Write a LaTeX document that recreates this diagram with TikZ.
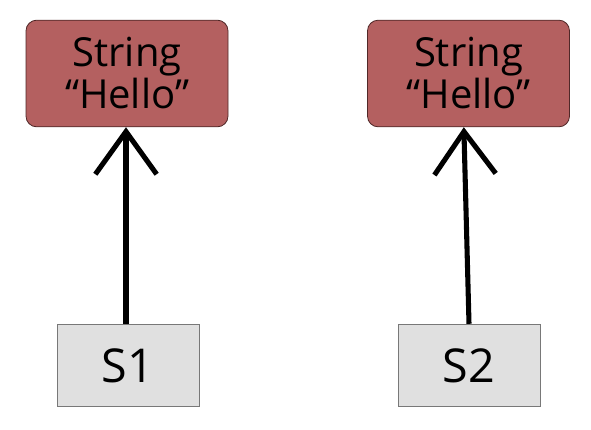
\documentclass[tikz,border=0pt]{standalone}
\usepackage{fontspec}
\setmainfont{Open Sans}
\usepackage{tikz}
\usetikzlibrary{arrows.meta}

\definecolor{strred}{RGB}{180,96,96}
\definecolor{strline}{RGB}{80,40,40}
\definecolor{refgray}{RGB}{224,224,224}
\definecolor{refline}{RGB}{120,120,120}

\tikzset{
  strobj/.style={draw=strline, line width=.6pt, fill=strred, rounded corners=8pt,
    minimum width=151.5pt, minimum height=80pt, align=center, inner sep=0pt,
    font=\fontsize{30}{31.5}\selectfont},
  refvar/.style={draw=refline, line width=.6pt, fill=refgray,
    minimum width=106.5pt, minimum height=62pt, inner sep=0pt,
    font=\fontsize{35}{40}\selectfont},
  refarrow/.style={line width=3.8pt, -{Straight Barb[length=32pt, width=46pt, line width=3.8pt]}}
}

\begin{document}
\begin{tikzpicture}[x=.75pt, y=-.75pt]
  \useasboundingbox (0,0) rectangle (591,429);
  % the two string objects
  \node[strobj] (str1) at (127,73.5) {String\\``Hello''};
  \node[strobj] (str2) at (468.5,73.5) {String\\``Hello''};
  % the two references
  \node[refvar] (s1) at (128,365.5) {S1};
  \node[refvar] (s2) at (469,365.5) {S2};
  % pointers
  \draw[refarrow] ([xshift=-1.5pt]s1.north) -- ([xshift=-.75pt]str1.south);
  \draw[refarrow] (s2.north) -- ([xshift=-3.5pt]str2.south);
\end{tikzpicture}
\end{document}
